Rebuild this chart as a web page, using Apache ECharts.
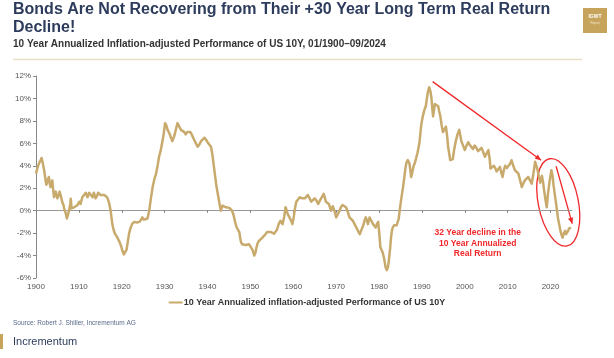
<!DOCTYPE html>
<html>
<head>
<meta charset="utf-8">
<script src="https://cdn.jsdelivr.net/npm/echarts@6/dist/echarts.min.js"></script>
<style>
html,body{margin:0;padding:0;background:#fff;}
#c{width:614px;height:358px;}
</style>
</head>
<body>
<div id="c"></div>
<script>
// ---- data ----
const years = [
1900.0,1900.4,1900.8,1901.1,1901.3,1901.6,1901.9,1902.2,1902.4,1902.7,1903.0,1903.2,1903.4,1903.8,1904.0,1904.2,1904.6,1905.0,1905.3,1905.5,1905.8,1906.1,1906.4,1906.7,1907.0,1907.2,1907.5,1907.7,1908.0,1908.1,1908.3,1908.6,1908.9,1909.3,1909.7,
1910.1,1910.4,1910.8,1911.2,1911.6,1912.0,1912.4,1912.8,1913.2,1913.5,1913.9,1914.2,1914.5,1915.0,1915.4,1915.8,1916.3,1916.7,1917.1,1917.4,1917.8,1918.1,1918.4,1918.9,1919.2,1919.5,1919.8,
1920.1,1920.5,1920.7,1921.1,1921.4,1921.7,1922.0,1922.4,1922.9,1923.5,1924.1,1924.5,1924.8,1925.2,1925.6,1926.0,1926.4,1926.8,1927.2,1927.6,1928.0,1928.4,1928.7,1929.1,1929.5,1929.8,
1930.1,1930.4,1930.7,1931.1,1931.5,1931.8,1932.2,1932.6,1933.0,1933.4,1933.8,1934.2,1934.6,1934.9,1935.3,1935.7,1936.0,1936.3,1936.9,1937.3,1937.7,1938.1,1938.5,1938.9,1939.3,1939.7,
1940.0,1940.4,1940.8,1941.1,1941.4,1941.7,1942.0,1942.3,1942.6,1942.9,1943.1,1943.5,1943.9,1944.3,1944.7,1945.1,1945.4,1945.7,1946.0,1946.2,1946.5,1946.8,1947.1,1947.4,1947.8,1948.1,1948.5,1948.9,1949.3,1949.7,
1950.1,1950.5,1950.9,1951.2,1951.4,1951.7,1952.0,1952.4,1952.8,1953.1,1953.5,1953.9,1954.3,1954.7,1955.1,1955.5,1955.8,1956.2,1956.6,1957.0,1957.3,1957.5,1957.9,1958.2,1958.4,1958.7,1959.1,1959.5,1959.8,
1960.1,1960.4,1960.7,1961.1,1961.5,1962.0,1962.4,1962.7,1963.0,1963.4,1963.8,1964.2,1964.6,1965.0,1965.4,1965.8,1966.2,1966.5,1966.8,1967.1,1967.4,1967.6,1968.0,1968.3,1968.8,1969.2,1969.6,
1970.0,1970.4,1970.8,1971.1,1971.5,1971.9,1972.3,1972.7,1973.1,1973.5,1973.9,1974.3,1974.7,1975.1,1975.5,1975.9,1976.3,1976.6,1976.9,1977.2,1977.4,1977.8,1978.2,1978.6,1978.9,1979.2,1979.5,1979.8,
1980.1,1980.3,1980.6,1980.9,1981.2,1981.5,1981.8,1982.1,1982.3,1982.6,1982.8,1983.0,1983.2,1983.5,1983.8,1984.1,1984.4,1984.6,1984.8,1985.2,1985.6,1985.9,1986.2,1986.4,1986.7,1987.1,1987.3,1987.5,1987.8,1988.0,1988.3,1988.6,1989.0,1989.4,1989.6,1989.8,
1990.0,1990.2,1990.6,1990.9,1991.2,1991.4,1991.7,1992.0,1992.2,1992.4,1992.6,1992.8,1993.0,1993.4,1993.8,1994.0,1994.3,1994.6,1994.9,1995.2,1995.6,1995.9,1996.1,1996.4,1996.6,1996.9,1997.2,1997.5,1997.9,1998.3,1998.7,1998.9,1999.2,1999.6,
2000.0,2000.4,2000.8,2001.1,2001.5,2001.9,2002.3,2002.7,2003.1,2003.5,2003.9,2004.3,2004.7,2005.1,2005.5,2005.8,2006.0,2006.4,2006.8,2007.1,2007.4,2007.8,2008.2,2008.5,2008.8,2009.1,2009.4,2009.8,
2010.2,2010.6,2010.9,2011.3,2011.7,2012.1,2012.5,2012.9,2013.3,2013.6,2014.0,2014.4,2014.8,2015.2,2015.6,2016.0,2016.4,2016.7,2017.0,2017.3,2017.6,2018.0,2018.3,2018.5,2018.8,2019.1,2019.4,2019.8,
2020.2,2020.5,2020.7,2021.0,2021.3,2021.5,2021.7,2022.0,2022.3,2022.6,2022.8,2023.1,2023.4,2023.6,2023.8,2024.1,2024.3,2024.5,2024.75
];
const realReturn = [
3.3,3.9,4.3,4.5,4.7,4.2,3.6,2.8,2.3,2.7,3.0,2.4,2.1,2.7,1.9,1.2,1.7,1.1,1.4,1.7,1.3,0.8,0.5,0.0,-0.3,-0.7,-0.3,0.0,0.6,1.07,0.2,0.1,0.3,0.2,0.5,
0.8,0.6,1.2,1.4,1.6,1.2,1.6,1.4,1.2,1.6,1.1,1.3,1.6,1.4,1.5,1.4,1.3,1.1,0.6,0.0,-1.2,-1.7,-2.05,-2.35,-2.5,-2.8,-3.1,
-3.5,-3.9,-4.0,-3.5,-2.8,-2.05,-1.6,-1.2,-1.0,-1.05,-1.0,-0.8,-0.6,-0.8,-0.9,-0.7,0.0,1.1,2.1,2.8,3.3,4.1,4.8,5.4,6.2,6.9,
7.8,7.6,7.2,6.9,6.5,6.2,6.6,7.2,7.8,7.5,7.2,7.1,7.0,6.8,7.0,7.1,7.0,6.8,6.3,6.0,5.7,5.9,6.2,6.3,6.5,6.3,
6.1,5.9,5.7,5.1,4.2,3.3,2.4,1.7,1.07,0.4,0.0,0.45,0.35,0.3,0.2,0.25,0.15,0.0,-0.3,-0.6,-1.1,-1.5,-1.6,-1.9,-2.8,-3.0,-3.1,-3.05,-2.95,-3.0,
-3.1,-3.5,-4.0,-3.7,-3.3,-2.9,-2.7,-2.6,-2.4,-2.3,-2.1,-1.9,-1.8,-1.9,-2.0,-2.05,-2.1,-1.7,-1.2,-0.9,-1.0,-1.2,-0.5,0.3,0.1,-0.3,-0.6,-0.9,-1.2,
-0.6,0.2,0.8,0.9,1.2,1.1,1.0,1.1,1.2,1.4,1.1,0.8,0.9,1.1,0.9,0.6,0.9,1.1,1.3,1.5,1.1,0.8,0.7,0.6,0.0,0.4,0.0,
-0.6,-0.3,0.0,0.3,0.5,0.4,0.3,-0.1,-0.6,-0.7,-0.9,-1.2,-1.5,-1.8,-2.1,-1.7,-1.35,-0.9,-0.6,-0.9,-1.2,-0.6,-0.9,-1.2,-1.3,-1.5,-1.2,-1.0,
-2.2,-3.25,-3.5,-3.8,-4.3,-5.0,-5.3,-5.0,-4.4,-3.3,-2.35,-1.8,-1.5,-1.3,-1.2,-1.3,-1.35,-0.7,0.0,1.1,2.1,3.0,3.9,4.3,4.5,4.2,3.6,3.0,3.5,3.9,4.2,4.6,5.2,6.0,6.7,7.5,
8.0,8.4,9.0,9.3,10.1,10.6,11.0,10.6,10.1,9.2,8.4,8.9,9.5,9.4,9.3,8.9,8.4,7.6,7.0,7.2,7.5,6.6,5.7,5.0,4.5,4.5,4.6,5.4,6.2,6.8,7.2,6.8,6.2,5.8,
5.4,5.8,6.1,5.9,5.7,5.5,5.8,5.6,5.3,5.4,5.6,5.2,4.8,5.1,5.4,4.6,3.75,3.9,4.0,3.8,3.5,3.7,3.9,3.4,3.0,3.6,4.0,3.8,
3.9,4.2,4.5,4.0,3.6,3.5,3.3,2.7,2.1,2.4,2.7,2.8,3.0,2.7,2.4,3.3,4.35,4.0,3.6,3.0,2.5,3.1,2.4,1.8,1.0,0.3,1.5,2.7,
3.6,3.0,2.25,1.4,0.6,0.0,-0.6,-1.2,-1.8,-2.2,-2.4,-2.0,-1.8,-2.1,-2.2,-1.8,-1.6,-1.7,-1.5
];
const xTickLabels = [1900,1910,1920,1930,1940,1950,1960,1970,1980,1990,2000,2010,2020];
const yTickLabels = [-6,-4,-2,0,2,4,6,8,10,12];
const seriesName = '10 Year Annualized inflation-adjusted Performance of US 10Y';

const seriesData = years.map((y, i) => [y, realReturn[i]]);

const chart = echarts.init(document.getElementById('c'), null, {renderer: 'canvas'});
const FONT = "'Liberation Sans', Arial, sans-serif";
const GOLD = '#c8aa6c';
const NAVY = '#2d3c5c';

const option = {
  animation: false,
  backgroundColor: '#fff',
  textStyle: {fontFamily: FONT},
  title: [
    {
      text: 'Bonds Are Not Recovering from Their +30 Year Long Term Real Return\nDecline!',
      left: 13, top: 1, padding: 0,
      textStyle: {fontFamily: FONT, fontSize: 16, fontWeight: 'bold', color: NAVY, lineHeight: 18}
    },
    {
      text: '10 Year Annualized Inflation-adjusted Performance of US 10Y, 01/1900–09/2024',
      left: 13, top: 38, padding: 0,
      textStyle: {fontFamily: FONT, fontSize: 10, fontWeight: 'bold', color: '#333', lineHeight: 12}
    }
  ],
  legend: {
    data: [seriesName],
    bottom: 46, left: 'center',
    icon: 'rect', itemWidth: 14, itemHeight: 2, itemGap: 4,
    textStyle: {fontFamily: FONT, fontSize: 9, fontWeight: 'bold', color: '#333', padding: [0,0,0,-4]}
  },
  grid: {left: 36, right: 42, top: 76, bottom: 80, containLabel: false},
  xAxis: [
    {
      type: 'value', min: 1900, max: 2025, interval: 10,
      position: 'bottom',
      axisLine: {show: false, onZero: false},
      axisTick: {show: false},
      splitLine: {show: false},
      axisLabel: {customValues: xTickLabels, formatter: v => String(v), color: '#555', fontSize: 8, margin: 5, fontFamily: FONT}
    },
    {
      type: 'value', min: 1900, max: 2025, interval: 10,
      position: 'bottom',
      axisLine: {show: true, onZero: true, lineStyle: {color: '#999', width: 1}},
      axisTick: {show: true, customValues: xTickLabels, length: 2, lineStyle: {color: '#777'}},
      axisLabel: {show: false},
      splitLine: {show: false}
    }
  ],
  yAxis: {
    type: 'value', min: -6, max: 12, interval: 2,
    axisLine: {show: true, lineStyle: {color: '#888', width: 1}},
    axisTick: {show: true, length: 3, lineStyle: {color: '#888'}},
    splitLine: {show: false},
    axisLabel: {customValues: yTickLabels, formatter: v => v + '%', color: '#555', fontSize: 8, margin: 5, fontFamily: FONT}
  },
  series: [{
    name: seriesName,
    type: 'line',
    xAxisIndex: 0,
    data: seriesData,
    showSymbol: false,
    symbol: 'none',
    lineStyle: {color: GOLD, width: 2.5, join: 'round'},
    itemStyle: {color: GOLD},
    z: 3
  }]
};
chart.setOption(option);

// ---- annotations placed through the chart's own coordinate system ----
function px(p) { return chart.convertToPixel({gridIndex: 0}, p); }
const arrow1 = [px([1992.5, 11.5]), px([2017.8, 4.5])];
const arrow2 = [px([2021.3, 3.96]), px([2025.05, -1.16])];
const ellC = px([2021.8, 0.74]);
const textC = px([2003, -1.5]);
function arrowHead(a, b, size) {
  const dx = b[0]-a[0], dy = b[1]-a[1], L = Math.hypot(dx, dy);
  const ux = dx/L, uy = dy/L;
  const bx = b[0]-ux*size, by = b[1]-uy*size;
  return [[b[0], b[1]], [bx - uy*size*0.45, by + ux*size*0.45], [bx + uy*size*0.45, by - ux*size*0.45]];
}
const RED = '#f0282a';
chart.setOption({
  graphic: [
    {type: 'line', shape: {x1: 13, y1: 59.5, x2: 582, y2: 59.5}, style: {stroke: '#eadfc8', lineWidth: 1.5}, silent: true},
    {type: 'rect', shape: {x: 583, y: 8, width: 24, height: 25}, style: {fill: '#c6a45c'}},
    {type: 'text', x: 595, y: 17, style: {text: 'IGWT', fill: '#fff', font: 'bold 5px ' + FONT, align: 'center', verticalAlign: 'middle'}},
    {type: 'text', x: 595, y: 23, style: {text: 'Report', fill: '#f2e6c8', font: '3px ' + FONT, align: 'center', verticalAlign: 'middle'}},
    {type: 'text', x: 13, y: 323, style: {text: 'Source: Robert J. Shiller, Incrementum AG', fill: '#5a6a8a', font: '6.5px ' + FONT, verticalAlign: 'middle'}},
    {type: 'rect', shape: {x: 0, y: 334, width: 3, height: 15}, style: {fill: '#c6a45c'}},
    {type: 'text', x: 13, y: 342, style: {text: 'Incrementum', fill: NAVY, font: '11px ' + FONT, verticalAlign: 'middle'}},
    {type: 'line', shape: {x1: arrow1[0][0], y1: arrow1[0][1], x2: arrow1[1][0], y2: arrow1[1][1]}, style: {stroke: RED, lineWidth: 1.3}},
    {type: 'polygon', shape: {points: arrowHead(arrow1[0], arrow1[1], 6)}, style: {fill: RED}},
    {type: 'line', shape: {x1: arrow2[0][0], y1: arrow2[0][1], x2: arrow2[1][0], y2: arrow2[1][1]}, style: {stroke: RED, lineWidth: 1.3}},
    {type: 'polygon', shape: {points: arrowHead(arrow2[0], arrow2[1], 6)}, style: {fill: RED}},
    {type: 'ellipse', x: ellC[0], y: ellC[1], rotation: 0.2, shape: {cx: 0, cy: 0, rx: 20, ry: 44.5}, style: {fill: 'none', stroke: RED, lineWidth: 1.3}},
    {type: 'text', x: textC[0], y: textC[1], style: {text: '32 Year decline in the\n10 Year Annualized\nReal Return', fill: RED, font: 'bold 8.5px ' + FONT, align: 'center', verticalAlign: 'top', lineHeight: 10.5}}
  ]
});
</script>
</body>
</html>
